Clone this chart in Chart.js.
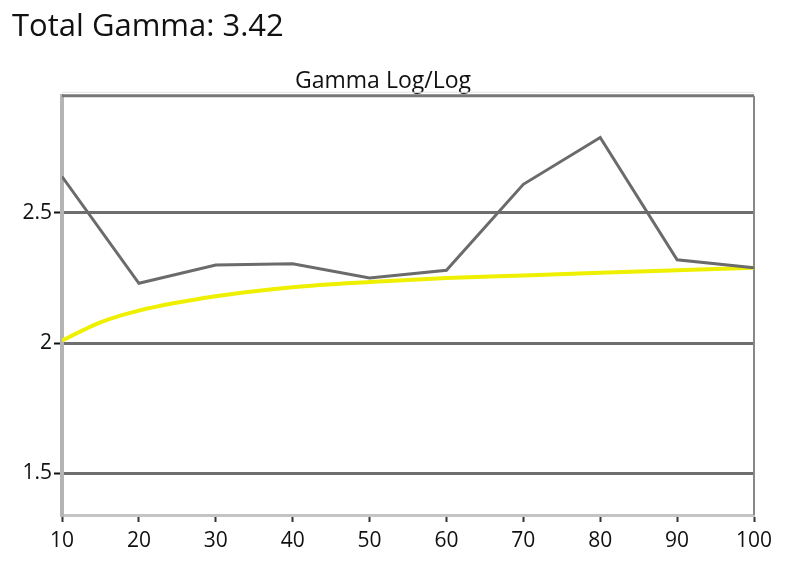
<!DOCTYPE html>
<html>
<head>
<meta charset="utf-8">
<script src="https://cdn.jsdelivr.net/npm/chart.js@4/dist/chart.umd.min.js"></script>
<style>
  html, body { margin: 0; padding: 0; background: #fff; }
  #wrap { width: 792px; height: 563px; }
</style>
</head>
<body>
<div id="wrap"><canvas id="gamma" width="792" height="563"></canvas></div>
<script>
// measured gamma per stimulus level
var levels = [10, 20, 30, 40, 50, 60, 70, 80, 90, 100];
var measured = [2.64, 2.23, 2.30, 2.305, 2.25, 2.28, 2.61, 2.79, 2.32, 2.29];

// target curve
var targetLevels = [10, 15, 20, 30, 40, 50, 60, 70, 80, 90, 100];
var target = [2.01, 2.08, 2.125, 2.18, 2.215, 2.235, 2.25, 2.26, 2.27, 2.28, 2.29];

var yTicks = [1.5, 2, 2.5];

function pts(xs, ys) {
  return xs.map(function (x, i) { return { x: x, y: ys[i] }; });
}

// top + right frame lines
var frame = {
  id: 'frame',
  beforeDatasetsDraw: function (chart) {
    var a = chart.chartArea, c = chart.ctx;
    c.save();
    c.strokeStyle = '#e4e4e4';
    c.lineWidth = 1;
    c.beginPath();
    c.moveTo(a.left, a.top - 3.5); c.lineTo(a.right, a.top - 3.5);
    c.stroke();
    c.strokeStyle = '#777';
    c.lineWidth = 3;
    c.beginPath();
    c.moveTo(a.left, a.top); c.lineTo(a.right, a.top);
    c.stroke();
    c.strokeStyle = '#888';
    c.lineWidth = 2;
    c.beginPath();
    c.moveTo(a.right, a.top); c.lineTo(a.right, a.bottom);
    c.stroke();
    c.restore();
  }
};

var ctx = document.getElementById('gamma');
var gammaChart = new Chart(ctx, {
  type: 'line',
  data: {
    datasets: [{
      label: 'Measured',
      data: pts(levels, measured),
      borderColor: '#6b6b6b',
      borderWidth: 3,
      pointRadius: 0,
      tension: 0
    }, {
      label: 'Target',
      data: pts(targetLevels, target),
      borderColor: '#eef000',
      borderWidth: 4,
      pointRadius: 0,
      cubicInterpolationMode: 'monotone'
    }]
  },
  options: {
    responsive: false,
    animation: false,
    layout: { padding: { left: 12, right: 38, top: 0, bottom: 0 } },
    plugins: {
      legend: { display: false },
      tooltip: { enabled: false },
      title: {
        display: true,
        text: 'Total Gamma: 3.42',
        align: 'start',
        color: '#111',
        font: { family: 'Open Sans', size: 31, weight: 'normal', lineHeight: 1.2 },
        padding: { top: 9, bottom: 13 }
      },
      subtitle: {
        display: true,
        text: 'Gamma Log/Log',
        color: '#111',
        font: { family: 'Open Sans', size: 23, lineHeight: 1.2 },
        padding: { top: 8, bottom: 1 }
      }
    },
    scales: {
      x: {
        type: 'linear',
        min: 10,
        max: 100,
        afterFit: function (s) { s.height = 48; },
        ticks: {
          stepSize: 10,
          color: '#111',
          padding: 6,
          font: { family: 'Open Sans', size: 21 }
        },
        grid: {
          drawOnChartArea: false,
          tickLength: 7,
          tickColor: '#333',
          tickWidth: 2
        },
        border: { color: '#c4c4c4', width: 3 }
      },
      y: {
        min: 1.34,
        max: 2.95,
        afterFit: function (s) { s.width = 50; },
        afterBuildTicks: function (s) {
          s.ticks = yTicks.map(function (v) { return { value: v }; });
        },
        ticks: {
          color: '#111',
          padding: 2,
          font: { family: 'Open Sans', size: 21 },
          callback: function (v) { return String(v); }
        },
        grid: {
          color: '#6e6e6e',
          lineWidth: 3,
          tickLength: 8,
          tickColor: '#111',
          tickWidth: 2
        },
        border: { color: '#b4b4b4', width: 4 }
      }
    }
  },
  plugins: [frame]
});
</script>
</body>
</html>
